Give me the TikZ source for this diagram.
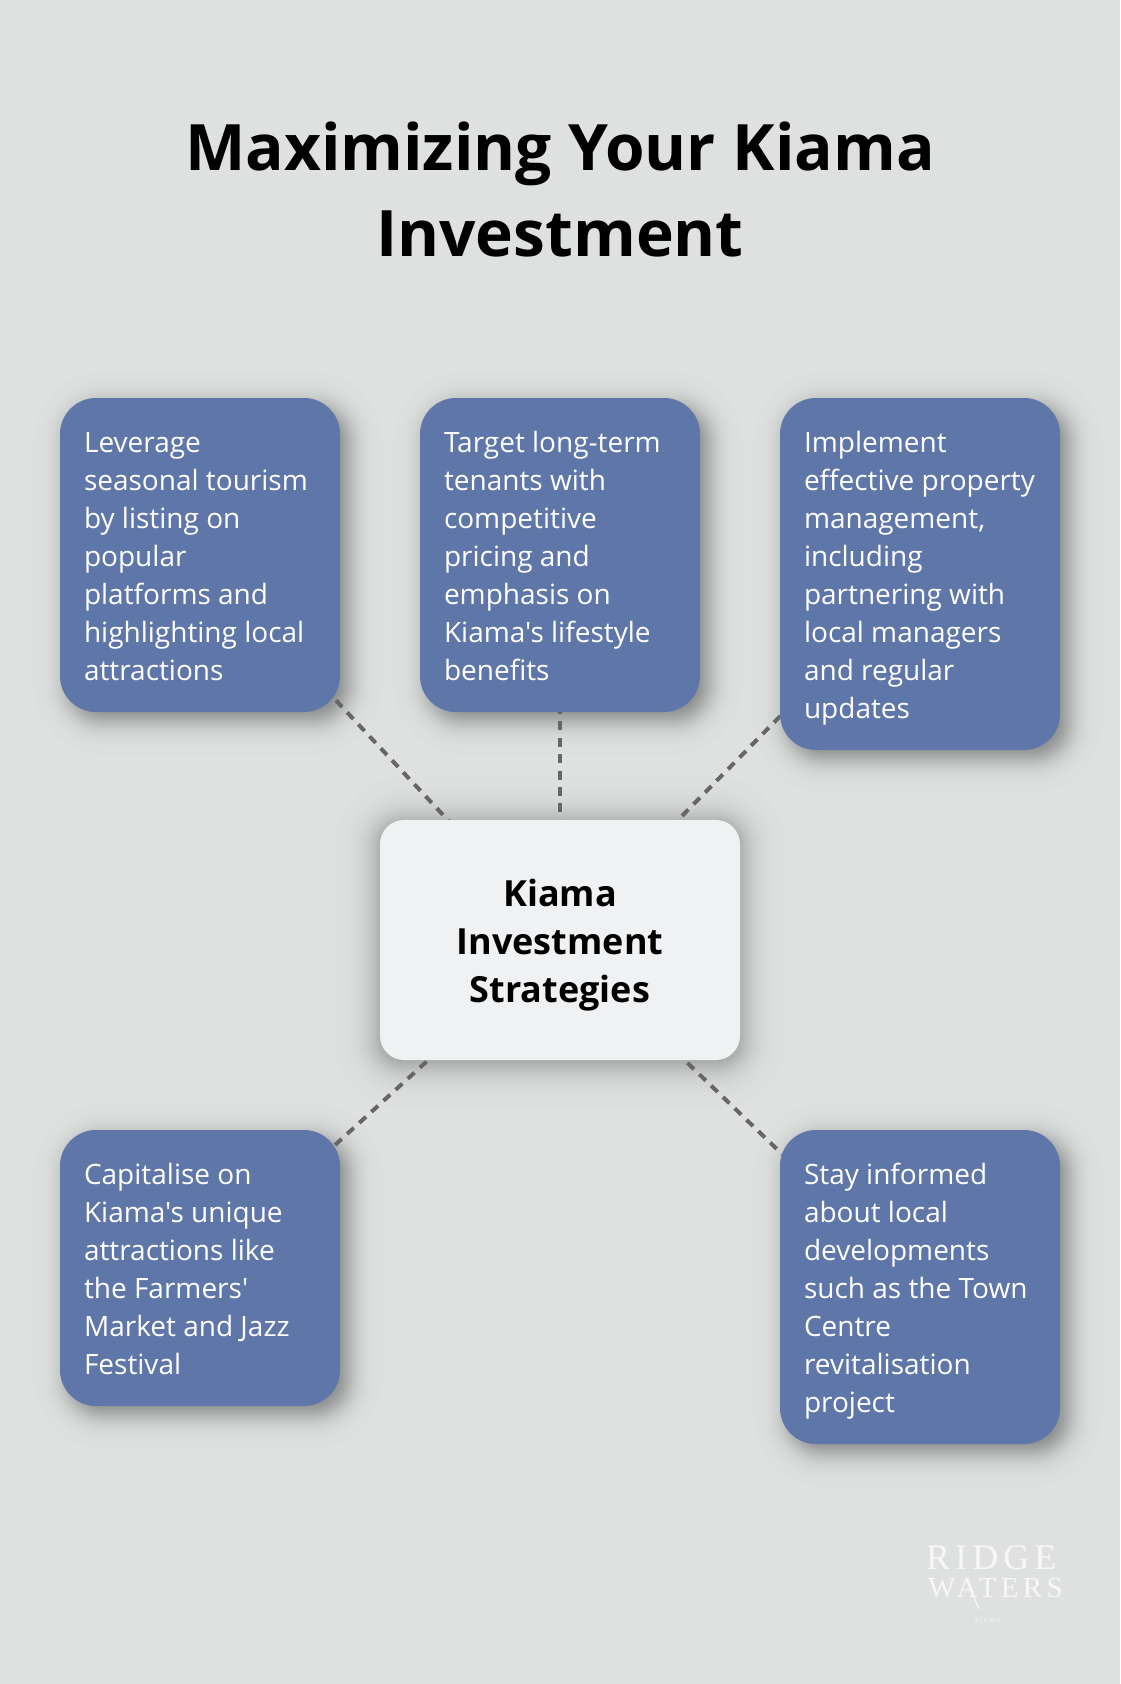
\documentclass[tikz,border=0pt]{standalone}
\usepackage{fontspec}
\usetikzlibrary{calc}
\newfontfamily\opensans{Open Sans}
\newfontfamily\logoserif[LetterSpace=14]{Liberation Serif}
\newfontfamily\logoserifb[LetterSpace=15]{Liberation Serif}
\newfontfamily\logosans[LetterSpace=20]{Open Sans}
\definecolor{pagebg}{HTML}{DFE1E0}
\definecolor{bluebox}{HTML}{5E76A8}
\definecolor{corebox}{HTML}{F0F1F3}
\definecolor{dashcol}{HTML}{666666}
\definecolor{logowhite}{HTML}{F7F7F7}
\pgfdeclarelayer{shadowlayer}
\pgfdeclarelayer{linelayer}
\pgfsetlayers{shadowlayer,linelayer,main}
\newcommand{\bst}{\rule[-8pt]{0pt}{38pt}}
\newcommand{\cst}{\rule[-10pt]{0pt}{48pt}}
\newcommand{\tst}{\rule[-18pt]{0pt}{86pt}}
\newcommand{\bodyfont}{\opensans\fontsize{28}{38}\selectfont}
\newcommand{\corefont}{\opensans\bfseries\fontsize{36}{48}\selectfont}
\newcommand{\titlefont}{\opensans\bfseries\fontsize{64}{86}\selectfont}
% soft shadow: name, radius, x offset, y offset, blur scale, layer opacity
\newcommand{\softshadow}[6]{%
  \foreach \i in {1,...,48}{%
    \pgfmathsetmacro{\pp}{(\i-0.5)/48}%
    \pgfmathsetmacro{\dd}{#5*ln(\pp/(1-\pp))}%
    \pgfmathsetmacro{\rr}{max(#2+\dd,1)}%
    \fill[black,fill opacity=#6,rounded corners=\rr pt]
      ($(#1.south west)+(#3-\dd,#4+\dd)$) rectangle ($(#1.north east)+(#3+\dd,#4-\dd)$);
  }%
}
\tikzset{
  infobox/.style={fill=bluebox,text=white,rounded corners=36pt,inner sep=0pt,
    minimum width=280pt,text width=232pt,align=flush left,font=\bodyfont},
  lines6/.style={minimum height=276pt},
  lines7/.style={minimum height=314pt},
  lines8/.style={minimum height=352pt},
  corenode/.style={fill=corebox,text=black,rounded corners=24pt,inner sep=0pt,
    minimum width=360pt,minimum height=240pt,text width=312pt,align=flush center,font=\corefont},
  titlenode/.style={text=black,inner sep=0pt,text width=1000pt,align=flush center,font=\titlefont},
  link/.style={draw=dashcol,line width=4pt,dash pattern=on 9pt off 7.4pt,dash phase=14.1pt},
  logotext/.style={text=logowhite,inner sep=0pt,anchor=base west}
}
\begin{document}
\begin{tikzpicture}[x=1pt,y=-1pt]
\useasboundingbox (0,0) rectangle (1120,1684);
\begin{pgfonlayer}{shadowlayer}
\fill[pagebg] (0,0) rectangle (1120,1684);
\end{pgfonlayer}

\node[titlenode] (title) at (560,188) {\tst Maximizing Your Kiama\\Investment\tst};

\node[corenode] (core) at (560,940) {\cst Kiama\\Investment\\Strategies\cst};

\node[infobox,lines7] (b1) at (200,555) {\bst Leverage\\seasonal tourism\\by listing on\\popular\\platforms and\\highlighting local\\attractions\bst};
\node[infobox,lines7] (b2) at (560,555) {\bst Target long-term\\tenants with\\competitive\\pricing and\\emphasis on\\Kiama's lifestyle\\benefits\bst};
\node[infobox,lines8] (b3) at (920,574) {\bst Implement\\\mbox{effective property}\\management,\\including\\partnering with\\local managers\\and regular\\updates\bst};
\node[infobox,lines6] (b4) at (200,1268) {\bst Capitalise on\\Kiama's unique\\attractions like\\the Farmers'\\Market and Jazz\\Festival\bst};
\node[infobox,lines7] (b5) at (920,1287) {\bst Stay informed\\about local\\developments\\such as the Town\\Centre\\revitalisation\\project\bst};

\begin{pgfonlayer}{shadowlayer}
\softshadow{core}{24}{0}{3}{10}{0.006}
\softshadow{b1}{36}{8}{8}{7.5}{0.0065}
\softshadow{b2}{36}{8}{8}{7.5}{0.0065}
\softshadow{b3}{36}{8}{8}{7.5}{0.0065}
\softshadow{b4}{36}{8}{8}{7.5}{0.0065}
\softshadow{b5}{36}{8}{8}{7.5}{0.0065}
\end{pgfonlayer}

\begin{pgfonlayer}{linelayer}
\draw[link] (b1.center) -- (core.center);
\draw[link] (b2.center) -- (core.center);
\draw[link] (b3.center) -- (core.center);
\draw[link] (b4.center) -- (core.center);
\draw[link] (b5.center) -- (core.center);
\end{pgfonlayer}

\node[logotext,font=\logoserif\fontsize{36}{36}\selectfont] (logoa) at (926,1569) {RIDGE};
\node[logotext,font=\logoserifb\fontsize{29}{29}\selectfont] (logob) at (928,1597) {WATERS};
\node[logotext,font=\logosans\fontsize{6.5}{7}\selectfont] (logoc) at (975,1622) {KIAMA};
\coordinate (legtop) at (967,1581);
\coordinate (legend) at (979,1609);
\draw[logowhite,line width=1.3pt] (legtop) -- (legend);
\end{tikzpicture}
\end{document}
